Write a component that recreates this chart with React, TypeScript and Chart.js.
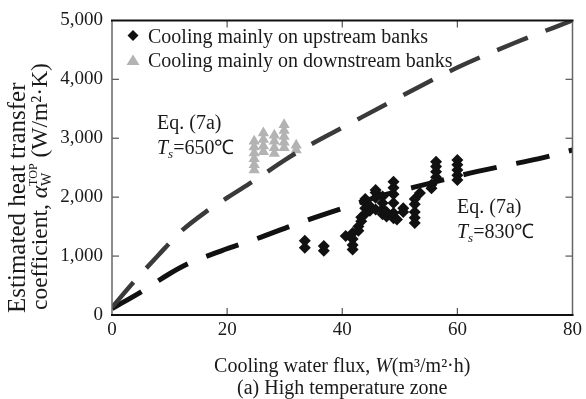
import { useEffect, useRef } from "react";
import { Chart, registerables } from "chart.js";

Chart.register(...registerables);

// ---------- data ----------
const xTickValues = [0, 20, 40, 60, 80];
const yTickValues = [0, 1000, 2000, 3000, 4000, 5000];

// Cooling mainly on upstream banks (black diamonds)
const upstreamW = [
  33.5, 33.5, 36.8, 36.8, 40.6, 41.8, 41.8, 41.8, 41.8, 42.8, 42.8, 43.3, 43.3,
  44.0, 44.0, 44.0, 44.0, 44.8, 44.8, 45.8, 45.8, 45.8, 45.8, 47.0, 47.0, 47.0, 47.0,
  47.7, 47.7, 48.9, 48.9, 48.9, 48.9, 48.9, 48.9, 49.5, 50.6, 50.6,
  52.6, 52.6, 52.6, 52.6, 52.6, 53.5, 55.5, 55.5, 56.3, 56.3, 56.3, 56.3,
  60.0, 60.0, 60.0, 60.0, 60.0,
];
const upstreamAlpha = [
  1260, 1140, 1170, 1090, 1340, 1390, 1290, 1190, 1110, 1500, 1430, 1590, 1660,
  1720, 1810, 1900, 1970, 1770, 1850, 1790, 1990, 2080, 2120, 1710, 1800, 1900, 2010,
  1670, 1750, 1640, 1730, 1900, 2050, 2160, 2260, 1620, 1750, 1810,
  1560, 1650, 1750, 1880, 1970, 2070, 2150, 2210, 2340, 2430, 2520, 2600,
  2290, 2370, 2460, 2550, 2630,
];

// Cooling mainly on downstream banks (grey triangles)
const downstreamW = [
  24.7, 24.7, 24.7, 24.7, 24.7, 24.7, 26.3, 26.3, 26.3, 26.3,
  28.2, 28.2, 28.2, 28.2, 29.9, 29.9, 29.9, 29.9, 29.9, 32.0, 32.0,
];
const downstreamAlpha = [
  2950, 2850, 2750, 2650, 2550, 2460, 3090, 2980, 2870, 2770,
  3050, 2950, 2840, 2740, 3230, 3130, 3030, 2930, 2840, 2880, 2800,
];

// Eq. (7a), Ts = 650 C
const eq650W = [0, 4, 8, 12, 16, 20, 25, 30, 35, 40, 50, 60, 70, 80];
const eq650Alpha = [130, 585, 1010, 1420, 1730, 1990, 2300, 2630, 2920, 3180, 3700, 4200, 4620, 5000];

// Eq. (7a), Ts = 830 C
const eq830W = [0, 5, 10, 13, 19, 25, 33, 40, 47, 55, 61, 68, 74, 80];
const eq830Alpha = [110, 390, 700, 860, 1090, 1290, 1580, 1810, 2030, 2230, 2380, 2530, 2650, 2800];

const legendLabels = ["Cooling mainly on upstream banks", "Cooling mainly on downstream banks"];

// ---------- helpers ----------
const SERIF = '"Liberation Serif", "Times New Roman", serif';
const TEXT_COLOR = "#1a1a1a";

type Seg = { t: string; size: number; italic?: boolean; dy?: number; stack?: boolean };

function fontOf(s: Seg) {
  return `${s.italic ? "italic " : ""}${s.size}px ${SERIF}`;
}

function layoutRich(ctx: CanvasRenderingContext2D, segs: Seg[]) {
  let x = 0;
  let prevStart = 0;
  let prevW = 0;
  const out: (Seg & { x: number })[] = [];
  for (const s of segs) {
    ctx.font = fontOf(s);
    const w = ctx.measureText(s.t).width;
    if (s.stack) {
      out.push({ ...s, x: prevStart });
      prevW = Math.max(prevW, w);
      x = prevStart + prevW;
    } else {
      out.push({ ...s, x });
      prevStart = x;
      prevW = w;
      x += w;
    }
  }
  return { out, width: x };
}

function drawRich(
  ctx: CanvasRenderingContext2D,
  segs: Seg[],
  x: number,
  y: number,
  align: "left" | "center"
) {
  const { out, width } = layoutRich(ctx, segs);
  const x0 = align === "center" ? x - width / 2 : x;
  ctx.textAlign = "left";
  ctx.textBaseline = "alphabetic";
  for (const s of out) {
    ctx.font = fontOf(s);
    ctx.fillText(s.t, x0 + s.x, y + (s.dy || 0));
  }
}

function line(ctx: CanvasRenderingContext2D, x1: number, y1: number, x2: number, y2: number) {
  ctx.beginPath();
  ctx.moveTo(x1, y1);
  ctx.lineTo(x2, y2);
  ctx.stroke();
}

const decorPlugin = {
  id: "decor",
  afterDatasetsDraw(chart: any) {
    const { ctx, chartArea: a, scales } = chart;
    const xs = scales.x;
    const ys = scales.y;
    ctx.save();
    // inward tick marks on all four sides
    ctx.strokeStyle = "#555";
    ctx.lineWidth = 1.2;
    const tl = 7;
    for (const v of xTickValues.slice(1, -1)) {
      const px = xs.getPixelForValue(v);
      line(ctx, px, a.bottom, px, a.bottom - tl);
      line(ctx, px, a.top, px, a.top + tl);
    }
    for (const v of yTickValues.slice(1, -1)) {
      const py = ys.getPixelForValue(v);
      line(ctx, a.left, py, a.left + tl, py);
      line(ctx, a.right, py, a.right - tl, py);
    }
    // frame
    ctx.strokeStyle = "#666";
    ctx.lineWidth = 1.5;
    line(ctx, a.left, a.top, a.left, a.bottom);
    line(ctx, a.right, a.top, a.right, a.bottom);
    ctx.strokeStyle = "#111";
    ctx.lineWidth = 2;
    line(ctx, a.left - 1, a.top, a.right + 1, a.top);
    line(ctx, a.left - 1, a.bottom, a.right + 1, a.bottom);
    ctx.restore();
  },
  afterDraw(chart: any) {
    const { ctx, chartArea: a } = chart;
    ctx.save();
    ctx.fillStyle = TEXT_COLOR;

    // ----- legend -----
    const lx = a.left + 21;
    // diamond
    ctx.fillStyle = "#111";
    ctx.beginPath();
    ctx.moveTo(lx, 30);
    ctx.lineTo(lx + 5.5, 35.5);
    ctx.lineTo(lx, 41);
    ctx.lineTo(lx - 5.5, 35.5);
    ctx.closePath();
    ctx.fill();
    // triangle
    ctx.fillStyle = "#b3b3b3";
    ctx.beginPath();
    ctx.moveTo(lx, 54.5);
    ctx.lineTo(lx + 6.5, 65);
    ctx.lineTo(lx - 6.5, 65);
    ctx.closePath();
    ctx.fill();
    ctx.fillStyle = TEXT_COLOR;
    ctx.font = `20px ${SERIF}`;
    ctx.textAlign = "left";
    ctx.textBaseline = "alphabetic";
    ctx.fillText(legendLabels[0], a.left + 36, 43);
    ctx.fillText(legendLabels[1], a.left + 36, 67);

    // ----- annotations -----
    const eqSegs = (temp: string): Seg[] => [
      { t: "T", size: 20, italic: true },
      { t: "s", size: 13, italic: true, dy: 4 },
      { t: "=" + temp + "\u2103", size: 20 },
    ];
    ctx.font = `20px ${SERIF}`;
    ctx.fillText("Eq. (7a)", 157, 129);
    drawRich(ctx, eqSegs("650"), 157, 154, "left");
    ctx.font = `20px ${SERIF}`;
    ctx.fillText("Eq. (7a)", 457, 213);
    drawRich(ctx, eqSegs("830"), 457, 238, "left");

    // ----- x title & caption -----
    const cx = (a.left + a.right) / 2;
    drawRich(
      ctx,
      [
        { t: "Cooling water flux, ", size: 20 },
        { t: "W", size: 20, italic: true },
        { t: "(m\u00b3/m\u00b2\u00b7h)", size: 20 },
      ],
      cx,
      372,
      "center"
    );
    ctx.font = `20px ${SERIF}`;
    ctx.textAlign = "center";
    ctx.fillText("(a) High temperature zone", cx, 394);

    // ----- y title (rotated) -----
    ctx.save();
    ctx.rotate(-Math.PI / 2);
    // rotated frame: x' = -screenY, y' = screenX
    drawRich(ctx, [{ t: "Estimated heat transfer", size: 25 }], -313, 25, "left");
    drawRich(
      ctx,
      [
        { t: "coefficient, ", size: 23.5 },
        { t: "\u03b1", size: 23.5, italic: true },
        { t: "W", size: 14, dy: 4 },
        { t: "TOP", size: 12, dy: -10, stack: true },
        { t: " (W/m\u00b2\u00b7K)", size: 23.5 },
      ],
      -310,
      47,
      "left"
    );
    ctx.restore();

    ctx.restore();
  },
};

export default function App() {
  const canvasRef = useRef<HTMLCanvasElement | null>(null);

  useEffect(() => {
    const canvas = canvasRef.current;
    if (!canvas) return;

    const upstream = upstreamW.map((w, i) => ({ x: w, y: upstreamAlpha[i] }));
    const downstream = downstreamW.map((w, i) => ({ x: w, y: downstreamAlpha[i] }));
    const curve650 = eq650W.map((w, i) => ({ x: w, y: eq650Alpha[i] }));
    const curve830 = eq830W.map((w, i) => ({ x: w, y: eq830Alpha[i] }));

    const chart = new Chart(canvas, {
      type: "scatter",
      data: {
        datasets: [
          {
            label: "Eq. (7a) Ts=650",
            data: curve650,
            showLine: true,
            borderColor: "#3a3a3a",
            borderWidth: 4.5,
            borderDash: [33, 19],
            borderCapStyle: "butt",
            pointRadius: 0,
            cubicInterpolationMode: "monotone",
            order: 0,
          },
          {
            label: "Eq. (7a) Ts=830",
            data: curve830,
            showLine: true,
            borderColor: "#111",
            borderWidth: 5,
            borderDash: [34, 20],
            borderCapStyle: "butt",
            pointRadius: 0,
            cubicInterpolationMode: "monotone",
            order: 0,
          },
          {
            label: legendLabels[0],
            data: upstream,
            pointStyle: "rectRot",
            pointRadius: 6,
            backgroundColor: "#111",
            borderColor: "#111",
            borderWidth: 0,
            order: 1,
          },
          {
            label: legendLabels[1],
            data: downstream,
            pointStyle: "triangle",
            pointRadius: 6.5,
            backgroundColor: "#b3b3b3",
            borderColor: "#b3b3b3",
            borderWidth: 0,
            order: 2,
          },
        ],
      } as any,
      options: {
        animation: false,
        responsive: true,
        maintainAspectRatio: false,
        layout: { padding: { top: 16, right: 10, left: 0, bottom: 0 } },
        plugins: {
          legend: { display: false },
          tooltip: { enabled: false },
        },
        scales: {
          x: {
            type: "linear",
            min: 0,
            max: 80,
            afterBuildTicks: (s: any) => {
              s.ticks = xTickValues.map((v) => ({ value: v }));
            },
            afterFit: (s: any) => {
              s.height = 84;
            },
            grid: { display: false, drawTicks: false },
            border: { display: false },
            ticks: {
              font: { family: SERIF, size: 19 },
              color: TEXT_COLOR,
              padding: 4,
              maxRotation: 0,
              callback: (v: any) => String(v),
            },
          },
          y: {
            type: "linear",
            min: 0,
            max: 5000,
            afterBuildTicks: (s: any) => {
              s.ticks = yTickValues.map((v) => ({ value: v }));
            },
            afterFit: (s: any) => {
              s.width = 112;
            },
            grid: { display: false, drawTicks: false },
            border: { display: false },
            ticks: {
              font: { family: SERIF, size: 19 },
              color: TEXT_COLOR,
              padding: 9,
              callback: (v: any) => Number(v).toLocaleString("en-US"),
            },
          },
        },
      } as any,
      plugins: [decorPlugin],
    });

    return () => chart.destroy();
  }, []);

  return (
    <div style={{ position: "fixed", left: 0, top: 0, width: 586, height: 399, background: "#fff" }}>
      <canvas ref={canvasRef} />
    </div>
  );
}
